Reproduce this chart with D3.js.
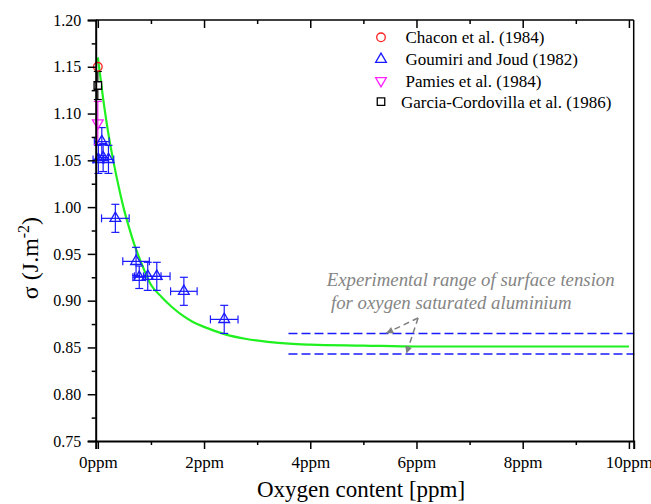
<!DOCTYPE html>
<html>
<head>
<meta charset="utf-8">
<script src="https://cdn.jsdelivr.net/npm/d3@7"></script>
<style>
  body { margin: 0; background: #fff; }
  text { font-family: "Liberation Serif", "Times New Roman", serif; }
</style>
</head>
<body>
<div id="chart"></div>
<script>
// fitted curve
const fitX = [0, 0.1, 0.2, 0.3, 0.4, 0.5, 0.6, 0.7, 0.8, 1.0, 1.2, 1.4, 1.6, 1.8, 2.0, 2.4, 2.8, 3.2, 3.6, 4.0, 5.0, 6.0, 8.0, 10.0];
const fitY = [1.160, 1.116, 1.078, 1.047, 1.020, 0.996, 0.976, 0.958, 0.943, 0.917, 0.904, 0.893, 0.884, 0.877, 0.872, 0.864, 0.859, 0.856, 0.854, 0.853, 0.852, 0.851, 0.851, 0.851];

// Goumiri and Joud (1982)
const gouX    = [0.075, 0.01, 0.10, 0.20, 0.33, 0.72, 0.78, 0.94, 1.11, 1.62, 2.38];
const gouY    = [1.070, 1.051, 1.053, 1.051, 0.988, 0.942, 0.925, 0.926, 0.926, 0.910, 0.880];
const gouXerr = [0.14, 0.10, 0.10, 0.10, 0.26, 0.25, 0.12, 0.25, 0.25, 0.25, 0.26];
const gouYerr = [0.015, 0.015, 0.015, 0.015, 0.015, 0.015, 0.012, 0.015, 0.015, 0.015, 0.015];

// Chacon, Pamies, Garcia-Cordovilla
const chaX = [0.0], chaY = [1.150];
const pamX = [0.0], pamY = [1.090], pamYerr = [0.023];
const garX = [0.0], garY = [1.130], garYerr = [0.015];

// experimental range for oxygen saturated Al
const rangeX = [3.59, 10.1];
const rangeY = [0.865, 0.843];

const legendNames = ["Chacon et al. (1984)", "Goumiri and Joud (1982)", "Pamies et al. (1984)", "Garcia-Cordovilla et al. (1986)"];
const xTicks = [0, 2, 4, 6, 8, 10];
const xMinor = [1, 3, 5, 7, 9];
const yTicks = [0.75, 0.80, 0.85, 0.90, 0.95, 1.00, 1.05, 1.10, 1.15, 1.20];
const yMinor = [0.775, 0.825, 0.875, 0.925, 0.975, 1.025, 1.075, 1.125, 1.175];

const W = 651, H = 504;
const svg = d3.select("#chart").append("svg").attr("width", W).attr("height", H);

// 缩放
const x = d3.scaleLinear().domain([-0.04, 10.09]).range([95.7, 633.7]);
const y = d3.scaleLinear().domain([0.75, 1.20]).range([441, 20]);

const defs = svg.append("defs");
defs.append("marker").attr("id", "ah").attr("viewBox", "0 0 10 10")
  .attr("refX", 10).attr("refY", 5).attr("markerWidth", 12).attr("markerHeight", 7)
  .attr("markerUnits", "userSpaceOnUse").attr("orient", "auto")
  .append("path").attr("d", "M0,0 L10,5 L0,10 Z").attr("fill", "#808080");

// range lines
svg.append("g").selectAll("line").data(rangeY).enter().append("line")
  .attr("x1", x(rangeX[0])).attr("x2", x(rangeX[1]))
  .attr("y1", d => y(d)).attr("y2", d => y(d))
  .attr("stroke", "#1a1aff").attr("stroke-width", 1.5).attr("stroke-dasharray", "9,4");

// fit curve
svg.append("path").datum(fitX.map((v, i) => [v, fitY[i]]))
  .attr("d", d3.line().x(d => x(d[0])).y(d => y(d[1])).curve(d3.curveMonotoneX))
  .attr("fill", "none").attr("stroke", "#1ff01f").attr("stroke-width", 2.2);

// error bars
const errG = svg.append("g").attr("stroke-width", 1.2).attr("fill", "none");
const cap = 4;
function vbar(cx, cy, e, col) {
  errG.append("line").attr("x1", x(cx)).attr("x2", x(cx)).attr("y1", y(cy - e)).attr("y2", y(cy + e)).attr("stroke", col);
  [cy - e, cy + e].forEach(v => errG.append("line").attr("x1", x(cx) - cap).attr("x2", x(cx) + cap).attr("y1", y(v)).attr("y2", y(v)).attr("stroke", col));
}
function hbar(cx, cy, e, col) {
  errG.append("line").attr("x1", x(cx - e)).attr("x2", x(cx + e)).attr("y1", y(cy)).attr("y2", y(cy)).attr("stroke", col);
  [cx - e, cx + e].forEach(v => errG.append("line").attr("x1", x(v)).attr("x2", x(v)).attr("y1", y(cy) - cap).attr("y2", y(cy) + cap).attr("stroke", col));
}
gouX.forEach((v, i) => { vbar(v, gouY[i], gouYerr[i], "#1a1aff"); hbar(v, gouY[i], gouXerr[i], "#1a1aff"); });
pamX.forEach((v, i) => vbar(v, pamY[i], pamYerr[i], "#ff22ff"));
garX.forEach((v, i) => vbar(v, garY[i], garYerr[i], "#000"));

// symbols
const triUp = d3.symbol(d3.symbolTriangle, 50);
const sq = d3.symbol(d3.symbolSquare, 56);
const drawSym = (g, kind, px, py) => {
  if (kind === 0) g.append("circle").attr("cx", px).attr("cy", py).attr("r", 4.3).attr("fill", "none").attr("stroke", "#ff2020").attr("stroke-width", 1.3);
  if (kind === 1) g.append("path").attr("d", triUp()).attr("transform", "translate(" + px + "," + py + ")").attr("fill", "none").attr("stroke", "#1a1aff").attr("stroke-width", 1.3);
  if (kind === 2) g.append("path").attr("d", triUp()).attr("transform", "translate(" + px + "," + py + ") rotate(180)").attr("fill", "none").attr("stroke", "#ff22ff").attr("stroke-width", 1.3);
  if (kind === 3) g.append("path").attr("d", sq()).attr("transform", "translate(" + px + "," + py + ")").attr("fill", "#fff").attr("stroke", "#000").attr("stroke-width", 1.3);
};
const symG = svg.append("g");
gouX.forEach((v, i) => drawSym(symG, 1, x(v), y(gouY[i])));
pamX.forEach((v, i) => drawSym(symG, 2, x(v), y(pamY[i])));
garX.forEach((v, i) => drawSym(symG, 3, x(v), y(garY[i])));
chaX.forEach((v, i) => drawSym(symG, 0, x(v), y(chaY[i])));

// axes
const axG = svg.append("g").attr("stroke", "#000").attr("fill", "none");
axG.append("line").attr("x1", 633.7).attr("x2", 633.7).attr("y1", 20).attr("y2", 441).attr("stroke-width", 1.5);
axG.append("line").attr("x1", 95.7).attr("x2", 633.7).attr("y1", 20).attr("y2", 20).attr("stroke-width", 1.5);

const xb = svg.append("g").attr("transform", "translate(0,441)")
  .call(d3.axisBottom(x).tickValues(xTicks).tickSize(8).tickFormat(d => d + "ppm"));
xb.append("g").call(d3.axisBottom(x).tickValues(xMinor).tickSize(4).tickFormat(""))
  .select(".domain").remove();
xb.selectAll("text").attr("font-size", 17).attr("font-family", "Liberation Serif").attr("fill", "#000").attr("dy", "0.95em");

const xt = svg.append("g").attr("transform", "translate(0,20)");
xt.call(d3.axisBottom(x).tickValues(xTicks).tickSize(8).tickFormat(""));
xt.append("g").call(d3.axisBottom(x).tickValues(xMinor).tickSize(4).tickFormat(""));
xt.selectAll(".domain").remove();

const yl = svg.append("g").attr("transform", "translate(95.7,0)")
  .call(d3.axisLeft(y).tickValues(yTicks).tickSize(8).tickFormat(d3.format(".2f")));
yl.append("g").call(d3.axisLeft(y).tickValues(yMinor).tickSize(4).tickFormat(""))
  .select(".domain").remove();
yl.selectAll("text").attr("font-size", 16).attr("font-family", "Liberation Serif").attr("fill", "#000").attr("x", -14.5);

svg.selectAll(".domain").attr("stroke-width", 2);
svg.selectAll(".tick line").attr("stroke-width", 1.5);

// axis titles
svg.append("text").attr("x", 361).attr("y", 497).attr("text-anchor", "middle")
  .attr("font-size", 23).text("Oxygen content [ppm]");
const yt = svg.append("text").attr("transform", "translate(38,258) rotate(-90)")
  .attr("text-anchor", "middle").attr("font-size", 24);
yt.append("tspan").text("σ (J.m");
yt.append("tspan").attr("dy", -9).attr("font-size", 16).text("-2");
yt.append("tspan").attr("dy", 9).text(")");

// legend
const legY = [37.3, 59.3, 80.7, 101.7];
const leg = svg.append("g");
legendNames.forEach((n, i) => {
  drawSym(leg, i, 381, legY[i]);
  leg.append("text").attr("x", i === 3 ? 401 : 405.5).attr("y", legY[i] + 6)
    .attr("font-size", 17).attr("fill", "#000").text(n);
});

// annotation
const note = svg.append("g").attr("fill", "#858585").attr("font-style", "italic").attr("font-size", 18.8);
note.append("text").attr("x", x(4.31)).attr("y", y(0.9152)).text("Experimental range of surface tension");
note.append("text").attr("x", x(4.39)).attr("y", y(0.8913)).text("for oxygen saturated aluminium");
const arrowFrom = [6.03, 0.8815];
const arrowTo = [[5.43, 0.8653], [5.81, 0.8436]];
svg.append("g").selectAll("line").data(arrowTo).enter().append("line")
  .attr("x1", x(arrowFrom[0])).attr("y1", y(arrowFrom[1]))
  .attr("x2", d => x(d[0])).attr("y2", d => y(d[1]))
  .attr("stroke", "#808080").attr("stroke-width", 1.5).attr("stroke-dasharray", "6,4")
  .attr("marker-end", "url(#ah)");
</script>
</body>
</html>
